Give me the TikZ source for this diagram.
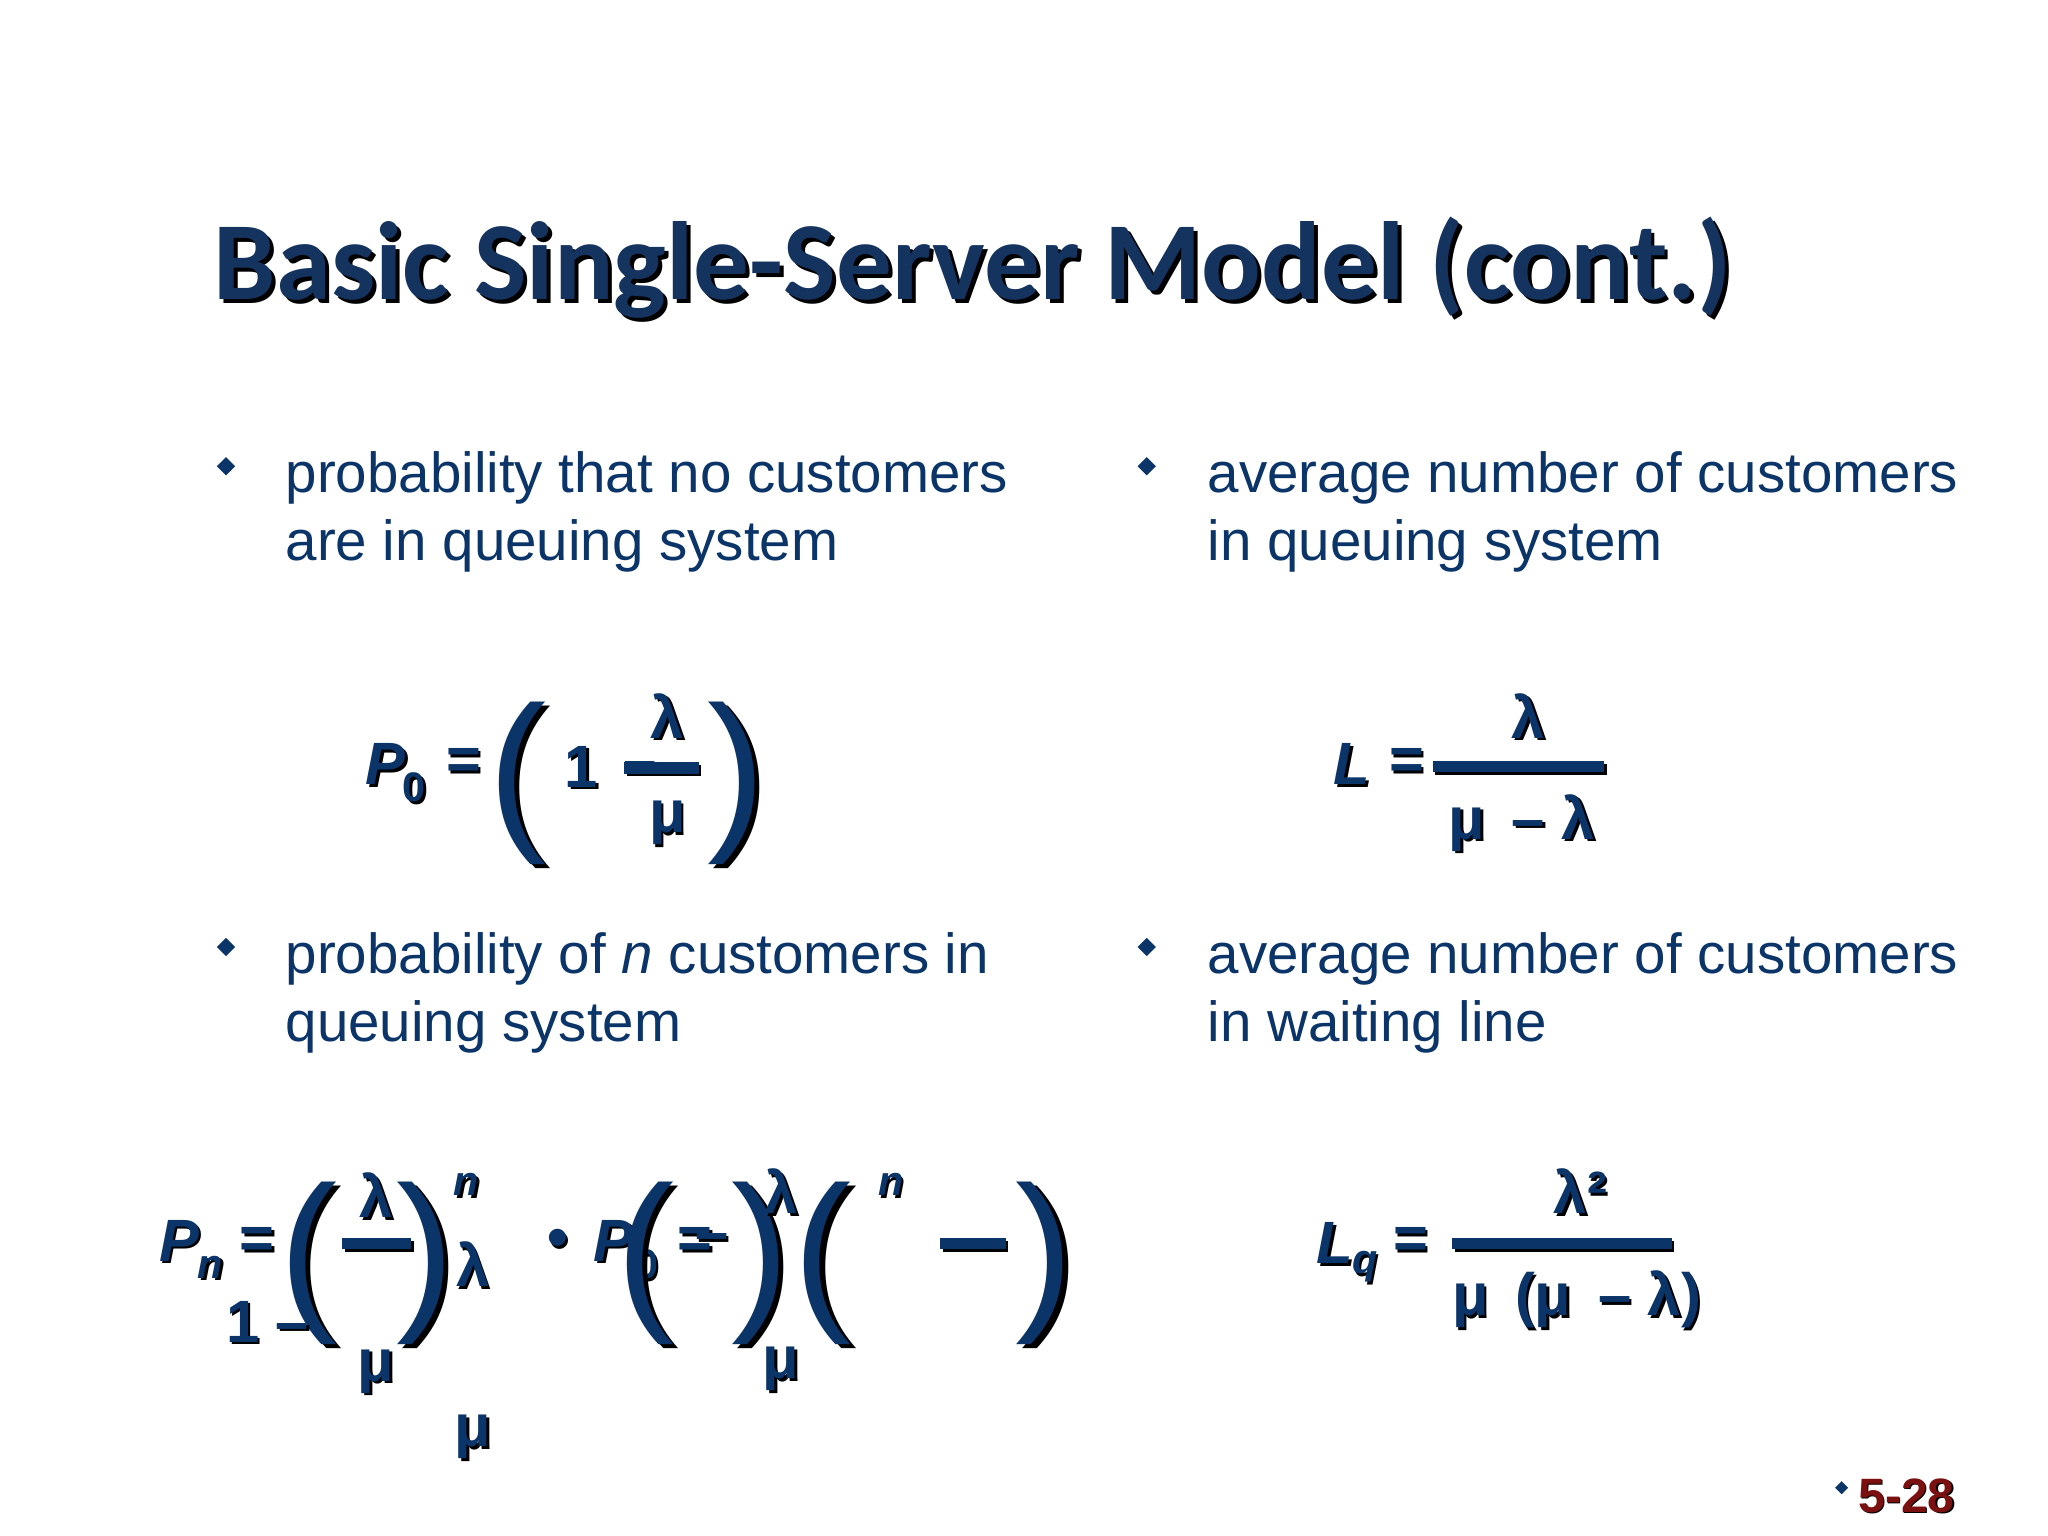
\documentclass[tikz,border=0pt]{standalone}
\usepackage{fontspec}
\usetikzlibrary{calc}
\setmainfont{Liberation Sans}
\newfontfamily\titlefont{Carlito}
\definecolor{navy}{HTML}{0B3468}
\definecolor{tnavy}{HTML}{14335F}
\definecolor{dred}{HTML}{7A1010}
\begin{document}
\begin{tikzpicture}[x=0.01cm,y=-0.01cm,
  body/.style={anchor=west,text=navy,font=\fontsize{12.3}{14}\selectfont,inner sep=0},
  fm/.style={text=navy,font=\fontsize{13}{14}\selectfont\bfseries,inner sep=0},
  fms/.style={text=black,font=\fontsize{13}{14}\selectfont\bfseries,inner sep=0},
  par/.style={text=navy,font=\fontsize{38}{38}\selectfont,inner sep=0},
  pars/.style={text=black,font=\fontsize{38}{38}\selectfont,inner sep=0},
  bar/.style={draw=navy,line width=2.4pt}]
\fill[white] (0,0) rectangle (1568,1176);
\useasboundingbox (0,0) rectangle (1568,1176);
% title
\node[anchor=west,text=black,font=\fontsize{24.2}{30}\selectfont\titlefont\bfseries,inner sep=0] at (166,208) {Basic Single-Server Model (cont.)};
\node[anchor=west,text=tnavy,font=\fontsize{24.2}{30}\selectfont\titlefont\bfseries,inner sep=0] (title) at (163,205) {Basic Single-Server Model (cont.)};
% bullets
\fill[navy] (173,350) -- (180,357) -- (173,364) -- (166,357) -- cycle;
\fill[navy] (878,350) -- (885,357) -- (878,364) -- (871,357) -- cycle;
\fill[navy] (173,718) -- (180,725) -- (173,732) -- (166,725) -- cycle;
\fill[navy] (878,718) -- (885,725) -- (878,732) -- (871,725) -- cycle;
\node[body] (t1) at (218,366) {probability that no customers};
\node[body] (t1b) at (218,418) {are in queuing system};
\node[body] (t2) at (924,366) {average number of customers};
\node[body] (t2b) at (924,418) {in queuing system};
\node[body] (t3) at (218,734) {probability of \textit{n} customers in};
\node[body] (t3b) at (218,786) {queuing system};
\node[body] (t4) at (924,734) {average number of customers};
\node[body] (t4b) at (924,786) {in waiting line};
% shadow helper
\newcommand\ft[3]{\node[fms] at ($(#1,#2)+(2,2)$) {#3};\node[fm] at (#1,#2) {#3};}
\newcommand\pr[3]{\node[pars] at ($(#1,#2)+(4,3)$) {#3};\node[par] at (#1,#2) {#3};}
% P0
\ft{295}{585}{\itshape P}
\ft{317}{603}{\fontsize{9}{9}\selectfont 0}
\ft{355}{585}{=}
\pr{396}{600}{(}
\ft{445}{587}{1}
\ft{490}{590}{–}
\ft{511}{548}{λ}
\draw[black,line width=2.4pt] (480,590) -- (537,590);
\draw[bar] (478,588) -- (535,588);
\ft{511}{630}{μ}
\pr{564}{600}{)}
% L
\ft{1035}{585}{\itshape L}
\ft{1077}{585}{=}
\ft{1170}{548}{λ}
\draw[black,line width=2.4pt] (1099,589) -- (1230,589);
\draw[bar] (1097,587) -- (1228,587);
\ft{1165}{630}{μ \,– λ}
% Lq
\ft{1022}{952}{\itshape L}
\ft{1045}{970}{\fontsize{9}{9}\selectfont\itshape q}
\ft{1080}{952}{=}
\ft{1210}{912}{λ²}
\draw[black,line width=2.4pt] (1114,954) -- (1282,954);
\draw[bar] (1112,952) -- (1280,952);
\ft{1207}{995}{μ \,(μ \,– λ)}
% Pn messy formula
\ft{137}{950}{\itshape P}
\ft{161}{970}{\fontsize{9}{9}\selectfont\itshape n}
\ft{197}{952}{=}
\pr{236}{967}{(}
\ft{288}{915}{λ}
\draw[black,line width=2.4pt] (264,954) -- (317,954);
\draw[bar] (262,952) -- (315,952);
\ft{288}{1050}{μ}
\pr{326}{967}{)}
\ft{357}{907}{\fontsize{9}{9}\selectfont\itshape n}
\ft{362}{968}{λ}
\ft{362}{1100}{μ}
\ft{205}{1012}{1 –}
\ft{427}{952}{•}
\ft{470}{950}{\itshape P}
\ft{495}{968}{\fontsize{9}{9}\selectfont 0}
\ft{532}{952}{=}
\ft{545}{952}{–}
\pr{494}{967}{(}
\pr{582}{967}{)}
\ft{598}{912}{λ}
\ft{598}{1048}{μ}
\pr{630}{967}{(}
\ft{682}{907}{\fontsize{9}{9}\selectfont\itshape n}
\draw[black,line width=2.4pt] (722,954) -- (772,954);
\draw[bar] (720,952) -- (770,952);
\pr{800}{967}{)}
% page number
\fill[navy] (1410,1134) -- (1415,1139) -- (1410,1144) -- (1405,1139) -- cycle;
\node[anchor=west,inner sep=0,text=black,font=\fontsize{10.5}{12}\selectfont\bfseries] at (1423,1146) {5-28};
\node[anchor=west,inner sep=0,text=dred,font=\fontsize{10.5}{12}\selectfont\bfseries] (pg) at (1422,1145) {5-28};
\end{tikzpicture}
\end{document}
